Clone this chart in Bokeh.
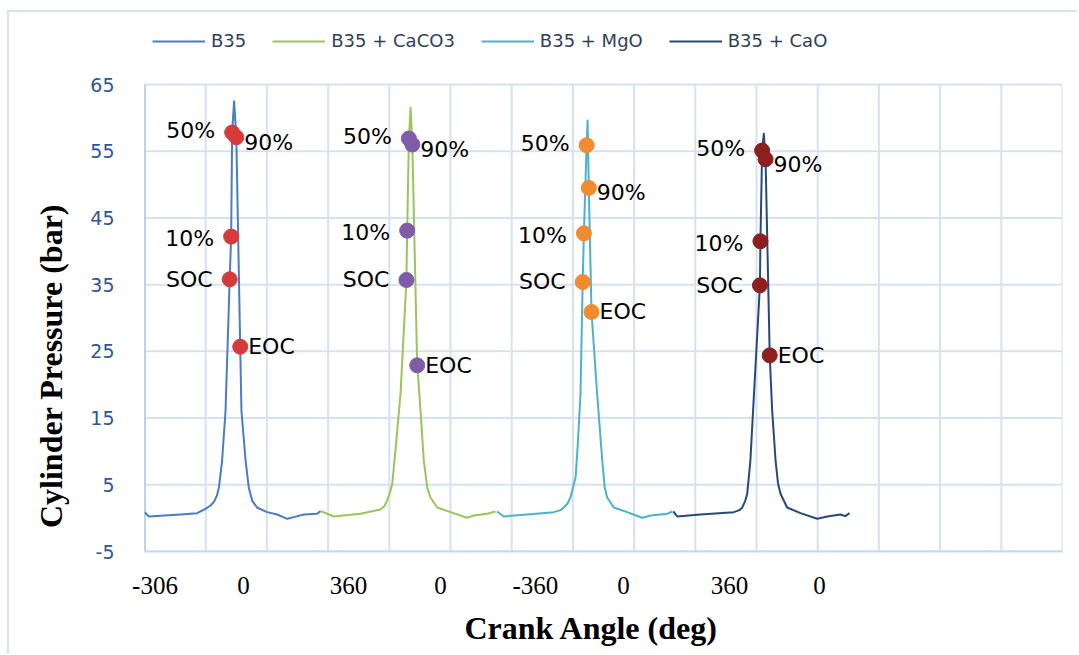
from bokeh.plotting import figure
from bokeh.models import (ColumnDataSource, FixedTicker, Legend, LegendItem, Range1d)
from bokeh.core.properties import value
from bokeh.embed import file_html
from bokeh.resources import INLINE

# ---------------- data ----------------
series_names = ["B35", "B35 + CaCO3", "B35 + MgO", "B35 + CaO"]

# crank angle (deg) within each cycle, and cylinder pressure (bar)
ang_b35 = [-360, -342, -213, -145, -111, -90, -77, -64, -56, -43, -29, -12, -6, -2, 6, 15, 31, 36,
           53, 66, 80, 100, 141, 182, 223, 250, 291, 345, 359]
p_b35 = [0.9, 0.25, 0.55, 0.75, 1.4, 1.9, 2.4, 3.4, 4.6, 8.6, 16.1, 35.8, 42.2, 57.8, 62.5, 57.1, 25.7, 16.1,
         8.6, 4.6, 2.6, 1.6, 0.9, 0.55, -0.1, 0.15, 0.55, 0.65, 1.05]

ang_caco3 = [-360, -307, -198, -116, -100, -89, -78, -68, -55, -34, -10, -7, 0, 7, 14, 34, 43,
             61, 75, 88, 116, 170, 238, 265, 320, 354]
p_caco3 = [1.05, 0.25, 0.65, 1.3, 1.8, 2.65, 3.7, 5.15, 10.1, 18.7, 35.7, 43.1, 56.9, 61.5, 56.0, 22.9, 18.6,
           8.6, 4.6, 3.1, 1.6, 0.9, 0.05, 0.4, 0.65, 1.0]

ang_mgo = [-360, -332, -237, -128, -100, -87, -72, -60, -39, -30, -19, -10, -5, 6, 10, 15, 26,
           49, 70, 80, 90, 117, 172, 233, 267, 335, 356]
p_mgo = [1.0, 0.25, 0.55, 0.9, 1.2, 1.6, 2.2, 3.1, 6.1, 11.1, 18.6, 35.4, 42.7, 55.9, 59.6, 49.5, 30.9,
         18.6, 8.6, 4.6, 3.1, 1.6, 0.9, 0.05, 0.4, 0.65, 1.0]

ang_cao = [-360, -344, -249, -113, -90, -78, -66, -58, -45, -34, -6, -4, 3, 10, 17, 34, 44,
           58, 68, 78, 105, 160, 228, 269, 323, 343, 360]
p_cao = [1.0, 0.25, 0.55, 0.9, 1.2, 1.6, 2.6, 3.65, 8.6, 16.1, 34.9, 41.5, 55.1, 57.6, 53.8, 24.4, 16.1,
         8.6, 5.2, 3.65, 1.6, 0.75, -0.1, 0.25, 0.55, 0.3, 0.75]

# combustion points
point_labels = ["SOC", "10%", "50%", "90%", "EOC"]
pt_ang_b35 = [-12, -6, -2, 15, 31]
pt_p_b35 = [35.8, 42.2, 57.8, 57.1, 25.7]
pt_ang_caco3 = [-10, -7, 0, 14, 34]
pt_p_caco3 = [35.7, 43.1, 56.9, 56.0, 22.9]
pt_ang_mgo = [-10, -5, 6, 15, 26]
pt_p_mgo = [35.4, 42.7, 55.9, 49.5, 30.9]
pt_ang_cao = [-6, -4, 3, 17, 34]
pt_p_cao = [34.9, 41.5, 55.1, 53.8, 24.4]

# x-axis category labels (position along the concatenated record, deg)
x_tick_labels = ["-306", "0", "360", "0", "-360", "0", "360", "0"]
x_tick_pos = [43, 404, 833, 1209, 1597, 1957, 2390, 2757]

y_ticks = [-5, 5, 15, 25, 35, 45, 55, 65]
y_tick_labels = ["-5", "5", "15", "25", "35", "45", "55", "65"]

x_title = "Crank Angle (deg)"
y_title = "Cylinder Pressure (bar)"

# ---------------- styles ----------------
CYCLE = 720
X_END = 3750
X_GRID_STEP = 250
line_colors = ["#4A7CC4", "#9BC45A", "#4BB2CC", "#27497A"]
dot_colors = ["#D63B3B", "#7F5BA8", "#F28A2E", "#8E1F1F"]
left_side = {"SOC", "10%", "50%"}
y_shift = {"SOC": 0, "10%": 2, "50%": -2, "90%": 5, "EOC": 0}
GRID = "#D6E2F3"
NBSP = "\u00a0"

# frame extends above the 65-bar line to hold the legend
plot_h_px = 467          # height of the -5..65 area
extra_top_px = 64        # legend band above it
y_top = y_ticks[-1] + (y_ticks[-1] - y_ticks[0]) * extra_top_px / plot_h_px

W, H = 1070, 643
p = figure(width=W, height=H, x_range=Range1d(0, X_END), y_range=Range1d(y_ticks[0], y_top),
           output_backend="svg", toolbar_location=None,
           min_border_left=135, min_border_right=17, min_border_top=8, min_border_bottom=104)
p.styles = {"margin-left": "7px", "margin-top": "10px",
            "border-left": "2px solid #D5E1F1", "border-top": "2px solid #D5E1F1"}
p.outline_line_color = None
p.background_fill_color = "white"
p.border_fill_color = "white"
p.xgrid.visible = False
p.ygrid.visible = False

# grid lines limited to the data area
vx = list(range(0, X_END + 1, X_GRID_STEP))
p.segment(x0=vx, y0=[y_ticks[0]] * len(vx), x1=vx, y1=[y_ticks[-1]] * len(vx),
          line_color=GRID, line_width=2)
p.segment(x0=[0] * len(y_ticks), y0=y_ticks, x1=[X_END] * len(y_ticks), y1=y_ticks,
          line_color=GRID, line_width=2)
# y axis line (only over the data area)
p.segment(x0=[0], y0=[y_ticks[0]], x1=[0], y1=[y_ticks[-1]], line_color="#8DB3E2", line_width=2)

# axes
p.xaxis.ticker = FixedTicker(ticks=x_tick_pos)
p.xaxis.major_label_overrides = {pos: lab for pos, lab in zip(x_tick_pos, x_tick_labels)}
p.xaxis.major_label_text_font = "Liberation Serif"
p.xaxis.major_label_text_font_size = "25px"
p.xaxis.major_label_text_color = "black"
p.xaxis.major_label_standoff = 19
p.xaxis.axis_line_color = "#C5D7EE"
p.xaxis.axis_line_width = 2
p.xaxis.axis_label = x_title + NBSP * 3
p.xaxis.axis_label_text_font = "Liberation Serif"
p.xaxis.axis_label_text_font_style = "bold"
p.xaxis.axis_label_text_font_size = "32px"
p.xaxis.axis_label_text_color = "black"
p.xaxis.axis_label_standoff = 13

p.yaxis.ticker = FixedTicker(ticks=y_ticks)
p.yaxis.major_label_overrides = {t: lab for t, lab in zip(y_ticks, y_tick_labels)}
p.yaxis.major_label_text_font = "DejaVu Sans"
p.yaxis.major_label_text_font_size = "19px"
p.yaxis.major_label_text_color = "#2F5597"
p.yaxis.major_label_standoff = 24
p.yaxis.axis_line_color = None
p.yaxis.axis_label = y_title + NBSP * 20
p.yaxis.axis_label_text_font = "Liberation Serif"
p.yaxis.axis_label_text_font_style = "bold"
p.yaxis.axis_label_text_font_size = "32px"
p.yaxis.axis_label_text_color = "black"
p.yaxis.axis_label_standoff = 18

for ax in (p.xaxis, p.yaxis):
    ax.major_tick_line_color = None
    ax.minor_tick_line_color = None

curves = [(ang_b35, p_b35), (ang_caco3, p_caco3), (ang_mgo, p_mgo), (ang_cao, p_cao)]
points = [(pt_ang_b35, pt_p_b35), (pt_ang_caco3, pt_p_caco3),
          (pt_ang_mgo, pt_p_mgo), (pt_ang_cao, pt_p_cao)]

items = []
for k, (name, (ang, pr), (pa, pp)) in enumerate(zip(series_names, curves, points)):
    xs = [a + CYCLE / 2 + CYCLE * k for a in ang]
    r = p.line(xs, pr, line_color=line_colors[k], line_width=2, line_join="round")
    items.append(LegendItem(label=name, renderers=[r]))

    pxs = [a + CYCLE / 2 + CYCLE * k for a in pa]
    p.scatter(pxs, pp, size=15, fill_color=dot_colors[k], line_color=dot_colors[k])

    src = ColumnDataSource(dict(
        x=pxs, y=pp, text=point_labels,
        align=["right" if t in left_side else "left" for t in point_labels],
        xoff=[-17 if t in left_side else 8 for t in point_labels],
        yoff=[y_shift[t] for t in point_labels],
    ))
    p.text(x="x", y="y", text="text", source=src, text_align="align",
           text_baseline="middle", x_offset="xoff", y_offset="yoff",
           text_font=value("DejaVu Sans"), text_font_size="22px", text_color="black")

legend = Legend(items=items, orientation="horizontal", location=(8, 500),
                glyph_width=53, glyph_height=20, label_height=20, label_standoff=6, spacing=26,
                padding=0, margin=0, border_line_color=None, background_fill_alpha=0,
                label_text_font="DejaVu Sans", label_text_font_size="18px",
                label_text_color="#2E3F5C")
p.add_layout(legend, "center")

open("out.html", "w").write(file_html(p, INLINE))
